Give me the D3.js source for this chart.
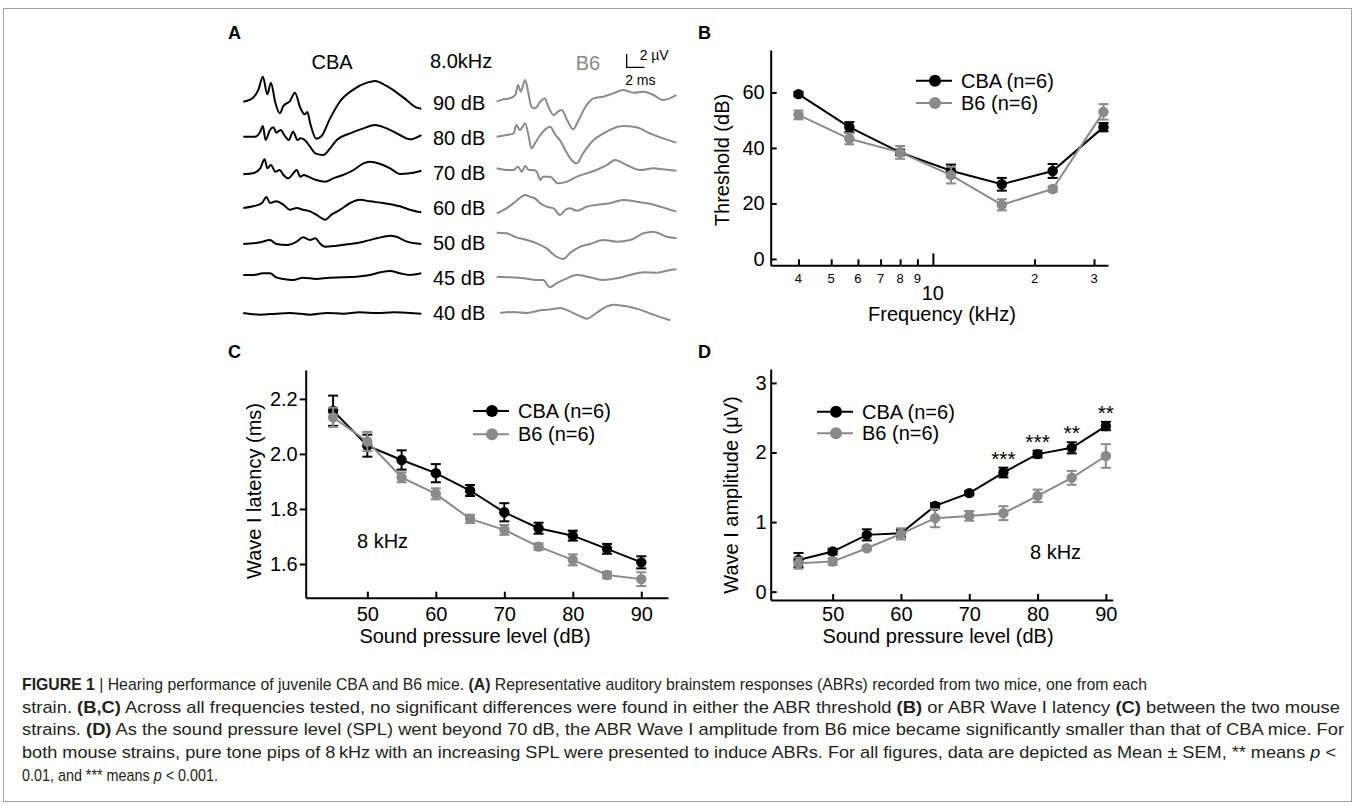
<!DOCTYPE html>
<html>
<head>
<meta charset="utf-8">
<script src="https://cdn.jsdelivr.net/npm/d3@7"></script>
<style>
  body { margin: 0; background: #fff; }
  svg { display: block; font-family: "Liberation Sans", Arial, sans-serif; }
  .axis path, .axis line { stroke: #000; stroke-width: 2px; }
  .axis text { font-family: "Liberation Sans", Arial, sans-serif; font-size: 20px; fill: #000; }
  .lbl { font-size: 20px; fill: #000; }
  .panel-letter { font-size: 18px; font-weight: bold; fill: #000; }
  .caption text { font-family: "Liberation Sans Narrow", "Arial Narrow", "Liberation Sans", sans-serif; font-size: 17px; fill: #231f20; white-space: pre; }
</style>
</head>
<body>
<svg id="fig" width="1355" height="806"></svg>
<script>
// ---------------- data ----------------

// panel A: ABR recordings, sound levels (dB) top to bottom
const levels = [90, 80, 70, 60, 50, 45, 40];

// each trace is a list of [time (ms), amplitude (uV)]
const cbaTraces = [
  [[0,0],[1.1,0.6],[1.7,1.8],[2.2,3.75],[2.7,1.1],[3.1,2.85],[3.6,-0.15],[4.1,-1.75],[4.5,-0.65],[5.25,0.1],[5.8,1.35],[6.4,-0.9],[6.9,-1.9],[7.2,-1.55],[7.5,-3.15],[8.2,-5.55],[8.8,-5.15],[9.7,-2.65],[10.9,0.1],[12.4,1.85],[13.9,2.85],[14.8,3.1],[16.1,2.35],[18.0,0.6],[19.5,-0.9],[20.0,-1.05]],
  [[0,0],[1.3,0],[1.9,0.75],[2.2,1.6],[2.5,-0.5],[3.0,1.0],[3.4,1.4],[3.7,0.6],[4.2,1.0],[4.6,0.25],[5.1,-0.5],[5.6,0.75],[6.1,-0.5],[6.4,-0.25],[6.9,-0.5],[7.5,-1.5],[8.1,-2.5],[9.0,-2.75],[9.6,-2.0],[10.5,-0.5],[12.0,0.5],[13.5,1.25],[14.8,1.75],[16.1,1.25],[17.6,0.25],[18.7,-0.4],[20.0,0.25]],
  [[0,0],[1.1,0.15],[1.9,0.9],[2.4,2.25],[2.7,0.9],[3.1,1.4],[3.6,0.4],[4.1,0.65],[4.5,-0.1],[5.1,-0.6],[5.6,0.15],[6.0,0.65],[6.4,-0.35],[6.8,-0.1],[7.3,-0.35],[8.2,-0.85],[9.2,-1.1],[10.1,-0.6],[11.2,-0.1],[12.4,0.65],[13.5,1.65],[14.2,1.9],[15.4,1.55],[16.5,0.9],[17.6,0.05],[18.7,0.15],[20.0,0.55]],
  [[0,0],[1.1,0.25],[2.1,0.75],[2.6,1.65],[3.0,0.75],[3.7,1.0],[4.5,0.5],[5.2,-0.25],[6.0,0],[6.7,-0.25],[7.5,-0.5],[8.2,-1.0],[9.2,-1.75],[9.9,-1.0],[10.9,-0.25],[12.0,0.75],[13.1,1.25],[14.2,1.0],[15.7,0.75],[17.6,0.25],[18.7,-0.25],[20.0,-0.65]],
  [[0,0],[1.9,0.25],[3.0,0.6],[3.7,0],[4.9,-0.15],[6.0,0.35],[6.7,1.0],[7.5,0.6],[8.1,0.85],[8.6,0.1],[9.2,-0.4],[10.5,-0.25],[12.0,0],[13.5,0.35],[15.0,0.85],[16.5,1.25],[17.2,1.1],[18.4,0.35],[20.0,0]],
  [[0,0],[1.1,0],[2.2,0.25],[3.0,0.25],[3.7,-0.35],[4.5,-0.6],[5.6,-0.75],[6.7,-0.4],[8.2,-0.6],[9.7,-0.4],[11.2,-0.35],[12.7,-0.25],[14.2,0],[15.4,0.4],[16.5,0.6],[17.6,0.25],[18.7,0],[20.0,0.25]],
  [[0,0],[1.9,-0.25],[3.7,-0.1],[5.2,0],[7.5,-0.25],[9.4,0],[11.2,-0.1],[13.1,0.1],[15.0,0],[16.9,0.1],[18.7,0],[20.0,-0.1]]
];
const b6Traces = [
  [[0,0],[0.75,0.35],[1.5,0.5],[2.1,1.0],[2.4,2.5],[2.7,1.5],[3.2,3.25],[3.6,1.0],[3.9,-0.75],[4.3,-1.0],[4.9,0],[5.4,0.5],[5.8,-0.75],[6.4,-2.0],[6.9,-1.5],[7.3,-1.25],[7.9,-2.75],[8.6,-4.15],[9.2,-2.75],[10.1,-0.5],[10.9,0.5],[12.0,0.75],[13.1,1.25],[14.2,1.75],[15.4,1.35],[16.5,1.5],[17.6,1.0],[18.7,0.25],[20.2,1.0]],
  [[0,0],[1.1,0.25],[1.9,0.5],[2.2,1.75],[2.6,1.0],[3.2,2.0],[3.6,0],[3.9,-1.75],[4.3,-1.0],[4.9,0.25],[5.6,1.25],[6.0,1.5],[6.6,0.25],[7.1,-0.5],[7.7,-2.0],[8.4,-3.5],[9.0,-4.0],[9.7,-2.5],[10.9,-0.5],[12.0,0.5],[13.1,1.25],[14.2,1.6],[15.7,1.4],[17.2,0.5],[18.7,-0.25],[20.2,-0.9]],
  [[0,0],[1.1,-0.25],[1.9,-0.25],[2.4,0.25],[2.8,-0.5],[3.2,0.35],[3.6,-0.25],[4.1,-0.25],[4.5,-0.5],[4.9,-1.75],[5.2,-1.25],[6.0,-1.25],[6.9,-2.25],[7.9,-2.0],[9.0,-1.25],[10.1,-0.75],[11.2,-0.25],[12.4,0.5],[13.3,1.25],[14.6,0.5],[16.1,-0.25],[17.6,0],[18.7,-0.15],[20.2,-0.35]],
  [[0,0],[1.1,0.75],[2.1,1.75],[2.8,2.5],[3.2,2.75],[3.7,2.5],[4.3,2.25],[4.9,1.5],[5.6,1.0],[6.4,0.75],[7.1,-0.25],[7.7,0.5],[8.2,0.75],[9.0,0.4],[10.1,1.0],[11.2,1.25],[12.7,1.5],[14.2,2.0],[15.7,1.75],[16.9,1.5],[18.4,1.0],[20.2,0.25]],
  [[0,0],[1.1,-0.1],[2.2,-0.7],[3.4,-1.1],[4.5,-1.6],[5.6,-2.35],[6.7,-3.6],[7.5,-3.95],[8.2,-3.1],[9.4,-2.1],[10.5,-1.7],[12.0,-1.1],[13.5,-1.35],[15.0,-1.1],[16.5,-0.1],[17.6,0.15],[19.1,-0.6],[20.2,-0.85]],
  [[0,0],[1.5,-0.1],[3.0,-0.25],[4.5,-0.5],[5.2,-0.5],[6.0,-1.6],[6.7,-1.0],[7.9,-0.25],[9.0,0.25],[10.5,-0.1],[12.0,-0.5],[13.5,-0.25],[15.0,0.25],[16.5,0.65],[18.0,0.6],[19.5,1.0],[20.2,1.1]],
  [[0.4,0],[1.9,0.15],[3.4,0],[4.9,0.4],[6.4,0.6],[7.1,0.75],[8.2,0.25],[9.4,-0.5],[10.1,-0.85],[11.2,0],[12.4,1.0],[13.1,1.25],[14.6,1.0],[16.1,0.5],[17.6,-0.25],[19.5,-1.1]]
];
// DC offset of each trace (uV)
const cbaOffset = [0.2, 0.2, -0.2, 0, -0.15, 0.45, 0];
const b6Offset = [0.2, 0.2, 0.7, -0.8, 1.55, 0.2, 0];

// panel B: ABR threshold (dB) vs tone frequency (kHz)
const freqs = [4, 5.66, 8, 11.31, 16, 22.63, 32];
const cbaThreshold = [59.4, 47.5, 38.4, 31.8, 26.9, 31.7, 47.5];
const cbaThresholdSem = [0.8, 1.8, 1.0, 2.2, 2.3, 2.5, 1.5];
const b6Threshold = [51.9, 43.3, 38.4, 30.2, 19.5, 25.2, 53.0];
const b6ThresholdSem = [1.6, 2.0, 2.3, 3.0, 2.0, 1.0, 2.8];
const freqMinorTicks = [4, 5, 6, 7, 8, 9, 20, 30];
const freqMinorLabels = ['4', '5', '6', '7', '8', '9', '2', '3'];
const freqMajorTicks = [10];
const thresholdTicks = [0, 20, 40, 60];

// panels C and D: Wave I vs sound pressure level (dB)
const spl = [45, 50, 55, 60, 65, 70, 75, 80, 85, 90];
const splTicks = [50, 60, 70, 80, 90];
const cbaLatency = [2.157, 2.030, 1.978, 1.930, 1.867, 1.788, 1.730, 1.703, 1.655, 1.606];
const cbaLatencySem = [0.055, 0.04, 0.035, 0.033, 0.02, 0.033, 0.02, 0.018, 0.018, 0.022];
const b6Latency = [2.133, 2.045, 1.915, 1.855, 1.764, 1.724, 1.663, 1.615, 1.560, 1.545];
const b6LatencySem = [0.035, 0.035, 0.018, 0.02, 0.015, 0.018, 0.012, 0.02, 0.012, 0.025];
const latencyTicks = [1.6, 1.8, 2.0, 2.2];

const cbaAmplitude = [0.456, 0.576, 0.816, 0.84, 1.233, 1.416, 1.712, 1.977, 2.067, 2.38];
const cbaAmplitudeSem = [0.1, 0.04, 0.08, 0.05, 0.04, 0.03, 0.07, 0.05, 0.08, 0.06];
const b6Amplitude = [0.409, 0.432, 0.624, 0.83, 1.056, 1.089, 1.128, 1.377, 1.636, 1.95];
const b6AmplitudeSem = [0.08, 0.05, 0.03, 0.08, 0.13, 0.07, 0.1, 0.09, 0.1, 0.17];
const amplitudeTicks = [0, 1, 2, 3];
const significance = ['', '', '', '', '', '', '***', '***', '**', '**'];

const strains = ['CBA (n=6)', 'B6 (n=6)'];
const colors = ['#000000', '#8a8a8a'];

const captionLines = [
  [['FIGURE 1', 'b'], [' | Hearing performance of juvenile CBA and B6 mice. '], ['(A)', 'b'], [' Representative auditory brainstem responses (ABRs) recorded from two mice, one from each']],
  [['strain. '], ['(B,C)', 'b'], [' Across all frequencies tested, no significant differences were found in either the ABR threshold '], ['(B)', 'b'], [' or ABR Wave I latency '], ['(C)', 'b'], [' between the two mouse']],
  [['strains. '], ['(D)', 'b'], [' As the sound pressure level (SPL) went beyond 70 dB, the ABR Wave I amplitude from B6 mice became significantly smaller than that of CBA mice. For']],
  [['both mouse strains, pure tone pips of 8\u2009kHz with an increasing SPL were presented to induce ABRs. For all figures, data are depicted as Mean \u00b1 SEM, ** means '], ['p', 'i'], [' <']],
  [['0.01, and *** means '], ['p', 'i'], [' < 0.001.']]
];
const captionWidths = [1125, 1318, 1322, 1314, 196];

// ---------------- drawing ----------------

const svg = d3.select('#fig');

// frame round the figure
svg.append('rect')
    .attr('x', 3.5).attr('y', 8.5)
    .attr('width', 1348).attr('height', 793)
    .attr('fill', 'none').attr('stroke', '#a0a0a0').attr('stroke-width', 1);

/**
 * Scatter + line panel with SEM error bars and a legend
 */
class LinePanel {

  constructor(_config, _series) {
    this.config = {
      parentElement: _config.parentElement,
      x: _config.x,
      y: _config.y,
      xTicks: _config.xTicks,
      xTickPadding: _config.xTickPadding || 10,
      yTicks: _config.yTicks,
      yFormat: _config.yFormat || d3.format('d'),
      yTickSize: _config.yTickSize,
      yTickPadding: _config.yTickPadding,
      yLabel: _config.yLabel,
      yLabelPos: _config.yLabelPos,
      xLabel: _config.xLabel,
      xLabelPos: _config.xLabelPos,
      legend: _config.legend,
      markerRadius: _config.markerRadius || 5.2
    }
    this.series = _series;
    this.initVis();
    this.renderVis();
  }

  initVis() {
    let vis = this;
    const x = vis.config.x, y = vis.config.y;
    const x0 = x.range()[0], y0 = y.range()[0];

    vis.chart = d3.select(vis.config.parentElement).append('g');

    vis.yAxis = d3.axisLeft(y)
        .tickValues(vis.config.yTicks)
        .tickFormat(vis.config.yFormat)
        .tickSize(vis.config.yTickSize)
        .tickSizeOuter(0)
        .tickPadding(vis.config.yTickPadding);

    vis.chart.append('g')
        .attr('class', 'axis y-axis')
        .attr('transform', `translate(${x0},0)`)
        .call(vis.yAxis);

    if (vis.config.xTicks) {
      vis.xAxis = d3.axisBottom(x)
          .tickValues(vis.config.xTicks)
          .tickFormat(d3.format('d'))
          .tickSize(-6)
          .tickSizeOuter(0)
          .tickPadding(vis.config.xTickPadding);
      vis.xAxisG = vis.chart.append('g')
          .attr('class', 'axis x-axis')
          .attr('transform', `translate(0,${y0})`)
          .call(vis.xAxis);
    }

    // axis titles
    vis.chart.append('text')
        .attr('class', 'lbl')
        .attr('text-anchor', 'middle')
        .attr('transform', `translate(${vis.config.yLabelPos[0]},${vis.config.yLabelPos[1]}) rotate(-90)`)
        .text(vis.config.yLabel);

    vis.chart.append('text')
        .attr('class', 'lbl')
        .attr('text-anchor', 'middle')
        .attr('x', vis.config.xLabelPos[0])
        .attr('y', vis.config.xLabelPos[1])
        .text(vis.config.xLabel);
  }

  renderVis() {
    let vis = this;
    const x = vis.config.x, y = vis.config.y;
    const r = vis.config.markerRadius;

    const line = d3.line()
        .x(d => x(d.x))
        .y(d => y(d.y));

    vis.series.forEach(s => {
      const pts = s.x.map((xv, i) => ({x: xv, y: s.y[i], e: s.sem[i]}));
      const g = vis.chart.append('g');

      g.append('path')
          .datum(pts)
          .attr('d', line)
          .attr('fill', 'none')
          .attr('stroke', s.color)
          .attr('stroke-width', 2);

      const bars = g.selectAll('.err')
          .data(pts)
        .join('g')
          .attr('stroke', s.color)
          .attr('stroke-width', 2);
      bars.append('line')
          .attr('x1', d => x(d.x)).attr('x2', d => x(d.x))
          .attr('y1', d => y(d.y - d.e)).attr('y2', d => y(d.y + d.e));
      bars.append('line')
          .attr('x1', d => x(d.x) - 5).attr('x2', d => x(d.x) + 5)
          .attr('y1', d => y(d.y + d.e)).attr('y2', d => y(d.y + d.e));
      bars.append('line')
          .attr('x1', d => x(d.x) - 5).attr('x2', d => x(d.x) + 5)
          .attr('y1', d => y(d.y - d.e)).attr('y2', d => y(d.y - d.e));

      g.selectAll('circle')
          .data(pts)
        .join('circle')
          .attr('cx', d => x(d.x))
          .attr('cy', d => y(d.y))
          .attr('r', r)
          .attr('fill', s.color);
    });

    // legend
    const lg = vis.config.legend;
    vis.series.forEach((s, i) => {
      const ly = lg.y + i * lg.step;
      vis.chart.append('line')
          .attr('x1', lg.x).attr('x2', lg.x + 36)
          .attr('y1', ly).attr('y2', ly)
          .attr('stroke', s.color).attr('stroke-width', 2);
      vis.chart.append('circle')
          .attr('cx', lg.x + 19).attr('cy', ly).attr('r', 6)
          .attr('fill', s.color);
      vis.chart.append('text')
          .attr('class', 'lbl')
          .attr('x', lg.x + 45)
          .attr('y', ly + 7)
          .text(s.name);
    });
  }
}

// ---------- panel A: traces ----------
function drawTraces() {
  const g = svg.append('g');
  const tCba = d3.scaleLinear().domain([0, 20]).range([243.3, 421.3]);
  const tB6 = d3.scaleLinear().domain([0, 20]).range([496.7, 674.7]);
  const amp = d3.scaleLinear().domain([0, 1]).range([0, -6.67]);
  const row = d3.scalePoint().domain(levels).range([103, 313]);

  const drawSet = (traces, offsets, tx, color) => {
    traces.forEach((tr, i) => {
      const base = row(levels[i]);
      const line = d3.line()
          .x(d => tx(d[0]))
          .y(d => base + amp(d[1] + offsets[i]))
          .curve(d3.curveMonotoneX);
      g.append('path')
          .datum(tr)
          .attr('d', line)
          .attr('fill', 'none')
          .attr('stroke', color)
          .attr('stroke-width', 2)
          .attr('stroke-linejoin', 'round');
    });
  };
  drawSet(cbaTraces, cbaOffset, tCba, colors[0]);
  drawSet(b6Traces, b6Offset, tB6, colors[1]);

  // sound level labels between the two columns
  g.selectAll('.lvl')
      .data(levels)
    .join('text')
      .attr('class', 'lbl')
      .attr('x', 433)
      .attr('y', d => row(d) + 7)
      .text(d => `${d} dB`);

  g.append('text').attr('class', 'lbl').attr('text-anchor', 'middle')
      .attr('x', 332).attr('y', 69).text('CBA');
  g.append('text').attr('class', 'lbl')
      .attr('x', 430).attr('y', 68).text('8.0kHz');
  g.append('text').attr('class', 'lbl').attr('text-anchor', 'middle')
      .attr('x', 588).attr('y', 70).style('fill', colors[1]).text('B6');

  // scale bar: 2 uV by 2 ms
  const sx = tB6(14.6), sy = 67.3;
  g.append('path')
      .attr('d', `M${sx},${sy + amp(2)}V${sy}H${tB6(16.6)}`)
      .attr('fill', 'none').attr('stroke', '#000').attr('stroke-width', 1.3);
  g.append('text').attr('x', sx + 13).attr('y', 59.5)
      .style('font-size', '14px').text('2 \u00b5V');
  g.append('text').attr('x', sx - 1.5).attr('y', 84.5)
      .style('font-size', '14px').text('2 ms');
}
drawTraces();

// ---------- panel B: threshold ----------
const xB = d3.scaleLog().domain([3.31, 33]).range([770.7, 1108]);
const yB = d3.scaleLinear().domain([-2.3, 75.3]).range([265.3, 50]);

const panelB = new LinePanel({
  parentElement: '#fig',
  x: xB, y: yB,
  yTicks: thresholdTicks,
  yTickSize: -6, yTickPadding: 6,
  yLabel: 'Threshold (dB)', yLabelPos: [729, 160],
  xLabel: 'Frequency (kHz)', xLabelPos: [942, 321],
  legend: {x: 916, y: 80.7, step: 22.3}
}, [
  {name: strains[0], color: colors[0], x: freqs, y: cbaThreshold, sem: cbaThresholdSem},
  {name: strains[1], color: colors[1], x: freqs, y: b6Threshold, sem: b6ThresholdSem}
]);

// log x-axis of panel B, minor ticks with small labels, major tick at 10
const xAxisB = svg.append('g')
    .attr('class', 'axis')
    .attr('transform', `translate(0,${yB.range()[0]})`)
    .call(d3.axisBottom(xB)
        .tickValues(freqMinorTicks.concat(freqMajorTicks))
        .tickFormat('')
        .tickSize(-6)
        .tickSizeOuter(0));
xAxisB.selectAll('.tick')
    .filter(d => freqMajorTicks.includes(d))
    .select('line').attr('y2', -12);
svg.selectAll('.flab')
    .data(freqMinorTicks)
  .join('text')
    .attr('x', d => xB(d))
    .attr('y', yB.range()[0] + 17.5)
    .attr('text-anchor', 'middle')
    .style('font-size', '13px')
    .text((d, i) => freqMinorLabels[i]);
svg.selectAll('.fmaj')
    .data(freqMajorTicks)
  .join('text')
    .attr('class', 'lbl')
    .attr('x', d => xB(d))
    .attr('y', yB.range()[0] + 34.5)
    .attr('text-anchor', 'middle')
    .text(d => d);

// ---------- panel C: latency ----------
const xC = d3.scaleLinear().domain([41, 93.9]).range([305.7, 668]);
const yC = d3.scaleLinear().domain([1.4775, 2.305]).range([597.7, 370]);

const panelC = new LinePanel({
  parentElement: '#fig',
  x: xC, y: yC,
  xTicks: splTicks, xTickPadding: 9,
  yTicks: latencyTicks,
  yFormat: d3.format('.1f'),
  yTickSize: 6, yTickPadding: 2,
  yLabel: 'Wave I latency (ms)', yLabelPos: [261, 491],
  xLabel: 'Sound pressure level (dB)', xLabelPos: [475, 642.5],
  legend: {x: 473, y: 411, step: 23.3}
}, [
  {name: strains[0], color: colors[0], x: spl, y: cbaLatency, sem: cbaLatencySem},
  {name: strains[1], color: colors[1], x: spl, y: b6Latency, sem: b6LatencySem}
]);
svg.append('text').attr('class', 'lbl').attr('x', 357).attr('y', 548).text('8 kHz');

// ---------- panel D: amplitude ----------
const xD = d3.scaleLinear().domain([40.93, 91]).range([770.7, 1112.7]);
const yD = d3.scaleLinear().domain([-0.12, 3.2]).range([600, 369]);

const panelD = new LinePanel({
  parentElement: '#fig',
  x: xD, y: yD,
  xTicks: splTicks, xTickPadding: 7,
  yTicks: amplitudeTicks,
  yTickSize: -6, yTickPadding: 4,
  yLabel: 'Wave I amplitude (\u03bcV)', yLabelPos: [738, 495],
  xLabel: 'Sound pressure level (dB)', xLabelPos: [938, 642.5],
  legend: {x: 817, y: 411.7, step: 21.6}
}, [
  {name: strains[0], color: colors[0], x: spl, y: cbaAmplitude, sem: cbaAmplitudeSem},
  {name: strains[1], color: colors[1], x: spl, y: b6Amplitude, sem: b6AmplitudeSem}
]);
svg.append('text').attr('class', 'lbl').attr('x', 1030).attr('y', 559).text('8 kHz');

// significance stars above the CBA error bars
svg.selectAll('.star')
    .data(spl)
  .join('text')
    .attr('x', d => xD(d))
    .attr('y', (d, i) => yD(cbaAmplitude[i] + cbaAmplitudeSem[i]) - 2)
    .attr('text-anchor', 'middle')
    .style('font-size', '21px')
    .text((d, i) => significance[i]);

// panel letters
[['A', 228, 39], ['B', 698, 39], ['C', 228, 358], ['D', 698, 358]].forEach(([t, x, y]) => {
  svg.append('text').attr('class', 'panel-letter').attr('x', x).attr('y', y).text(t);
});

// ---------- caption ----------
// each run of a line is its own text; the whole line is squeezed to the
// printed width so the narrow journal font is roughly imitated
const cap = svg.append('g').attr('class', 'caption');
captionLines.forEach((segs, i) => {
  const ly = 690 + i * 22.7;
  const runs = segs.map(([s, st]) => cap.append('text')
      .attr('y', ly)
      .style('font-weight', st === 'b' ? 'bold' : null)
      .style('font-style', st === 'i' ? 'italic' : null)
      .text(s));
  const widths = runs.map(t => t.node().getComputedTextLength());
  const k = captionWidths[i] / d3.sum(widths);
  let cx = 22;
  runs.forEach((t, j) => {
    t.attr('x', cx)
        .attr('textLength', widths[j] * k)
        .attr('lengthAdjust', 'spacingAndGlyphs');
    cx += widths[j] * k;
  });
});
</script>
</body>
</html>
